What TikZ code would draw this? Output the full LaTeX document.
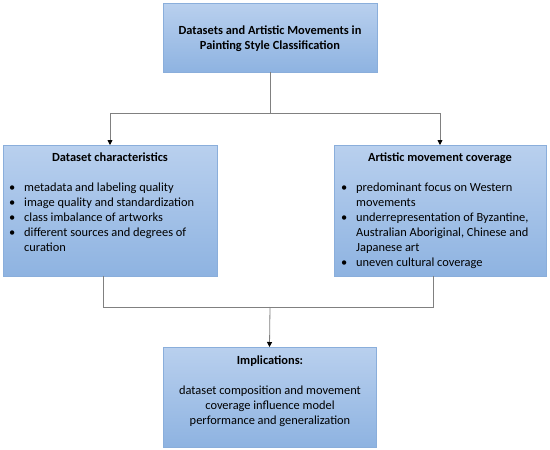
\documentclass[tikz,border=0pt]{standalone}
\usepackage{fontspec}
\setmainfont{Carlito}
\usetikzlibrary{arrows.meta}
\definecolor{boxtop}{HTML}{B9D0EE}
\definecolor{boxbot}{HTML}{8EB3E1}
\definecolor{boxborder}{HTML}{8AAEDB}
\definecolor{linegray}{HTML}{808080}
\newcommand\fnt{\fontsize{12.4pt}{15pt}\selectfont}
\newcommand\bl{\makebox[15pt][l]{•}}
\newcommand\ind{\hspace*{15pt}}
\tikzset{
  box/.style={draw=boxborder, line width=0.8pt, top color=boxtop, bottom color=boxbot, inner sep=0pt, outer sep=0pt},
  conn/.style={draw=linegray, line width=0.8pt},
  arr/.style={conn, -{Triangle[length=5pt,width=5pt,fill=black,color=black]}},
  ttl/.style={font=\fnt\bfseries, inner sep=0pt, anchor=base},
  lst/.style={font=\fnt, inner sep=0pt, anchor=north west},
  ctr/.style={font=\fnt, inner sep=0pt, anchor=north}
}
\begin{document}
\begin{tikzpicture}[x=1pt,y=-1pt]
\useasboundingbox (0,0) rectangle (550,450);
% boxes
\node[box, minimum width=214pt, minimum height=69pt] (top) at (270,37.5) {};
\node[box, minimum width=214pt, minimum height=131pt] (left) at (110,210.5) {};
\node[box, minimum width=212pt, minimum height=131pt] (right) at (440,210.5) {};
\node[box, minimum width=213pt, minimum height=100pt] (bot) at (269.5,397) {};
% texts
\node[ctr, font=\fnt\bfseries] (toptxt) at (270,23.5) {\begin{tabular}{@{}c@{}}Datasets and Artistic Movements in\\Painting Style Classification\end{tabular}};
\node[ttl] (ltitle) at (110,161) {Dataset characteristics};
\node[lst] (llist) at (9,180.5) {\begin{tabular}{@{}l@{}}
\bl metadata and labeling quality\\
\bl image quality and standardization\\
\bl class imbalance of artworks\\
\bl different sources and degrees of\\
\ind curation\end{tabular}};
\node[ttl] (rtitle) at (440,161) {Artistic movement coverage};
\node[lst] (rlist) at (341,180.5) {\begin{tabular}{@{}l@{}}
\bl predominant focus on Western\\
\ind movements\\
\bl underrepresentation of Byzantine,\\
\ind Australian Aboriginal, Chinese and\\
\ind Japanese art\\
\bl uneven cultural coverage\end{tabular}};
\node[ttl] (btitle) at (270,364) {Implications:};
\node[ctr] (btxt) at (270,383.5) {\begin{tabular}{@{}c@{}}dataset composition and movement\\coverage influence model\\performance and generalization\end{tabular}};
% connectors
\coordinate (j1) at (270,113);
\coordinate (jl) at (110,113);
\coordinate (jr) at (440,113);
\draw[conn] (top.south) -- (j1);
\draw[conn] (jl) -- (jr);
\draw[arr] (jl) -- (left.north);
\draw[arr] (jr) -- (right.north);
\coordinate (ll) at (103,307);
\coordinate (rr) at (433,307);
\coordinate (j2) at (270,307);
\draw[conn] ([xshift=-7pt]left.south) -- (ll) -- (rr) -- ([xshift=-7pt]right.south);
\draw[arr] (j2) -- (bot.north);
\end{tikzpicture}
\end{document}
